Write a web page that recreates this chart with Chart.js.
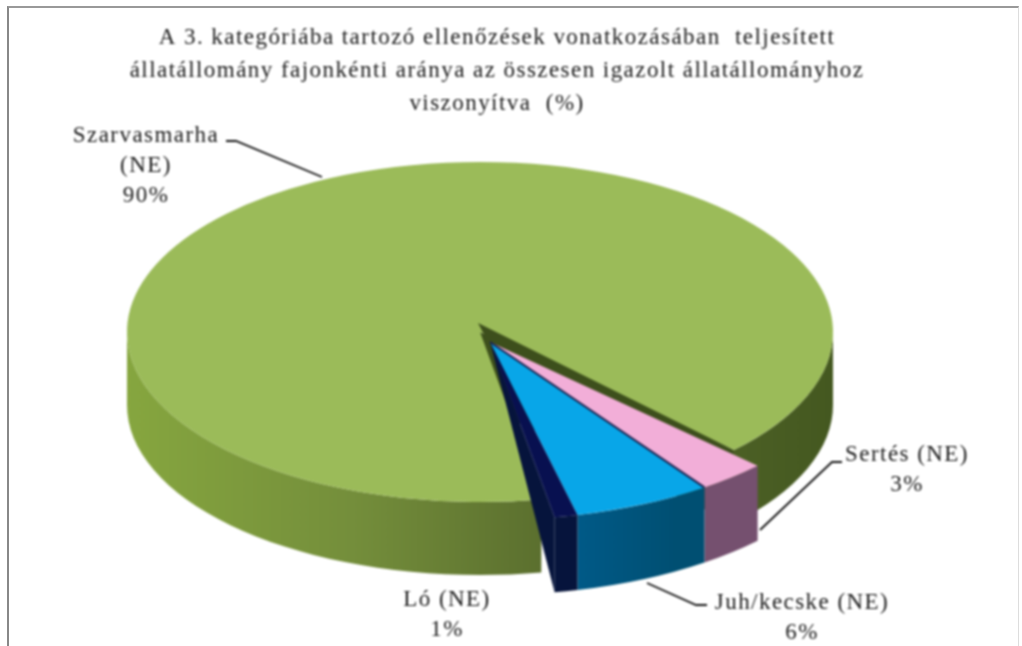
<!DOCTYPE html>
<html>
<head>
<meta charset="utf-8">
<title>3. kategória</title>
<script src="https://cdn.jsdelivr.net/npm/chart.js@4"></script>
<style>
  html, body { margin: 0; padding: 0; background: #fff; overflow: hidden; }
  #frame { position: absolute; left: 7px; top: 6px; width: 1009px; height: 650px;
           border-top: 2px solid #999; border-left: 2px solid #888; border-right: 1px solid #ddd; }
  canvas { position: absolute; left: 0; top: 0; filter: blur(1px); }
</style>
</head>
<body>
<div id="frame"></div>
<canvas id="pieChart" width="1022" height="646"></canvas>
<script>
const titleLines = [
  "A 3. kategóriába tartozó ellenőzések vonatkozásában  teljesített",
  "állatállomány fajonkénti aránya az összesen igazolt állatállományhoz",
  "viszonyítva  (%)",
];
const categories = ["Szarvasmarha (NE)", "Sertés (NE)", "Juh/kecske (NE)", "Ló (NE)"];
const shares = [90, 3, 6, 1];
const topColors = ["#9bbb59", "#f2aed8", "#08a6e8", "#081050"];
const startDeg = 170; // where the first slice starts, clockwise from 12 o'clock

// Look of the tilted pie on the page
const bodyView = { x: 480, y: 332, rx: 353, ry: 170, depth: 73 };
const pulledView = { x: 490, y: 342, rx: 372, ry: 178, depth: 75 };
const farApex = { x: 478, y: 323 }; // perspective moves the visible tip above the ellipse centre

// Where each outside label goes, with its leader line
const labelSpots = [
  { x: 146, y: 136, breakName: true, leader: [[226, 141], [236, 141], [322, 177]] },
  { x: 907, y: 455, leader: [[842, 462], [832, 462], [760, 530]] },
  { x: 802, y: 603, leader: [[707, 605], [696, 605], [647, 583]] },
  { x: 447, y: 600 },
];

function wallGradient(ctx, view, stops) {
  const g = ctx.createLinearGradient(view.x - view.rx, 0, view.x + view.rx, 0);
  stops.forEach((s) => g.addColorStop(s[0], s[1]));
  return g;
}

// Outer side of a slice, only the part that faces the viewer
function drawOuterWall(ctx, view, arc, fill) {
  for (let k = -1; k <= 1; k++) {
    const from = Math.max(arc.startAngle, 2 * Math.PI * k);
    const to = Math.min(arc.endAngle, 2 * Math.PI * k + Math.PI);
    if (to <= from) continue;
    ctx.beginPath();
    ctx.ellipse(view.x, view.y, view.rx, view.ry, 0, from, to);
    ctx.ellipse(view.x, view.y + view.depth, view.rx, view.ry, 0, to, from, true);
    ctx.closePath();
    ctx.fillStyle = fill;
    ctx.fill();
  }
}

function rimPoint(view, angle) {
  return [view.x + view.rx * Math.cos(angle), view.y + view.ry * Math.sin(angle)];
}

function drawTop(ctx, chart, view, arc) {
  ctx.save();
  ctx.translate(view.x, view.y);
  ctx.scale(view.rx / arc.outerRadius, view.ry / arc.outerRadius);
  ctx.translate(-arc.x, -arc.y);
  arc.draw(ctx, chart.chartArea);
  ctx.restore();
}

const tiltedPie = {
  id: "tiltedPie",
  beforeDraw(chart) {
    chart.ctx.letterSpacing = "1.45px";
  },
  // the arcs get drawn here so they can be tilted and given a side
  beforeDatasetDraw(chart) {
    const ctx = chart.ctx;
    const [body, pink, blue, navy] = chart.getDatasetMeta(0).data;

    drawOuterWall(ctx, bodyView, body, wallGradient(ctx, bodyView, [
      [0, "#86a63f"], [0.32, "#748e3b"], [0.6, "#5a6e2e"], [1, "#445820"],
    ]));
    // cut face of the big slice, seen in the gap
    const end = rimPoint(bodyView, body.endAngle);
    ctx.beginPath();
    ctx.moveTo(bodyView.x, bodyView.y);
    ctx.lineTo(end[0], end[1]);
    ctx.lineTo(end[0], end[1] + bodyView.depth);
    ctx.lineTo(bodyView.x, bodyView.y + bodyView.depth);
    ctx.closePath();
    ctx.fillStyle = "#3d4f1c";
    ctx.fill();
    drawTop(ctx, chart, bodyView, body);

    // dark wedge running from the tip along the cut
    ctx.beginPath();
    ctx.moveTo(farApex.x, farApex.y);
    ctx.lineTo(end[0], end[1]);
    ctx.lineTo(pulledView.x, pulledView.y + 4);
    ctx.closePath();
    ctx.fillStyle = "#3d4f1c";
    ctx.fill();

    drawOuterWall(ctx, pulledView, pink, "#75506f");
    drawOuterWall(ctx, pulledView, blue, wallGradient(ctx, pulledView, [
      [0.55, "#005f92"], [0.75, "#004f72"],
    ]));
    drawOuterWall(ctx, pulledView, navy, "#06143c");
    const navyEnd = rimPoint(pulledView, navy.endAngle);
    ctx.beginPath();
    ctx.moveTo(pulledView.x, pulledView.y);
    ctx.lineTo(navyEnd[0], navyEnd[1]);
    ctx.lineTo(navyEnd[0], navyEnd[1] + pulledView.depth);
    ctx.closePath();
    ctx.fillStyle = "#06143c";
    ctx.fill();

    [pink, blue, navy].forEach((arc) => drawTop(ctx, chart, pulledView, arc));

    // dark seam between pink and blue
    const seam = rimPoint(pulledView, blue.startAngle);
    ctx.beginPath();
    ctx.moveTo(pulledView.x, pulledView.y);
    ctx.lineTo(seam[0], seam[1]);
    ctx.strokeStyle = "#1c2350";
    ctx.lineWidth = 2;
    ctx.stroke();
    return false;
  },
  afterDraw(chart) {
    const ctx = chart.ctx;
    ctx.save();
    ctx.font = "23px 'Liberation Serif'";
    ctx.textAlign = "center";
    ctx.textBaseline = "middle";
    ctx.fillStyle = "#1a1a1a";
    categories.forEach((name, i) => {
      const spot = labelSpots[i];
      const lines = spot.breakName ? name.split(" ") : [name];
      lines.push(shares[i] + "%");
      lines.forEach((line, n) => ctx.fillText(line, spot.x, spot.y + n * 30));
      if (spot.leader) {
        ctx.beginPath();
        spot.leader.forEach((p, n) => (n ? ctx.lineTo(p[0], p[1]) : ctx.moveTo(p[0], p[1])));
        ctx.strokeStyle = "#111";
        ctx.lineWidth = 1.8;
        ctx.stroke();
      }
    });
    ctx.restore();
  },
};

new Chart(document.getElementById("pieChart"), {
  type: "pie",
  data: {
    labels: categories,
    datasets: [{ data: shares, backgroundColor: topColors, borderWidth: 0, hoverOffset: 0 }],
  },
  plugins: [tiltedPie],
  options: {
    responsive: false,
    animation: false,
    rotation: startDeg,
    layout: { padding: { right: 28 } },
    events: [],
    plugins: {
      legend: { display: false },
      tooltip: { enabled: false },
      title: {
        display: true,
        text: titleLines,
        color: "#1a1a1a",
        font: { family: "'Liberation Serif'", size: 23, weight: "normal", lineHeight: 1.45 },
        padding: { top: 21, bottom: 10 },
      },
    },
  },
});
</script>
</body>
</html>
